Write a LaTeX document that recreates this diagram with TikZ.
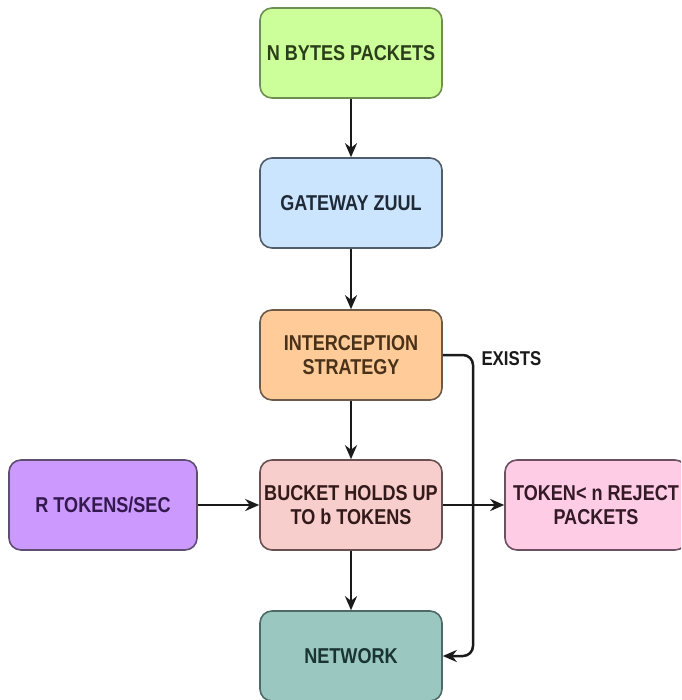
\documentclass[tikz,border=0pt]{standalone}
\usepackage{fontspec}
\setmainfont{Liberation Sans}[FakeStretch=0.84]
\usetikzlibrary{arrows.meta}
\definecolor{gF}{HTML}{CCFF99}\definecolor{gB}{HTML}{6E8F4F}\definecolor{gT}{HTML}{2B3D1A}
\definecolor{bF}{HTML}{CCE5FF}\definecolor{bB}{HTML}{525D6A}\definecolor{bT}{HTML}{1F2A36}
\definecolor{oF}{HTML}{FFCC99}\definecolor{oB}{HTML}{6E5A48}\definecolor{oT}{HTML}{4A3119}
\definecolor{rF}{HTML}{F8CECC}\definecolor{rB}{HTML}{6A5050}\definecolor{rT}{HTML}{331A1A}
\definecolor{pF}{HTML}{CC99FF}\definecolor{pB}{HTML}{5E4E70}\definecolor{pT}{HTML}{33194D}
\definecolor{kF}{HTML}{FFCCE6}\definecolor{kB}{HTML}{6A5060}\definecolor{kT}{HTML}{331A26}
\definecolor{nF}{HTML}{9AC7BF}\definecolor{nB}{HTML}{4E6A66}\definecolor{nT}{HTML}{1A3333}
\definecolor{lineC}{HTML}{1A1A1A}
\tikzset{
  box/.style={draw, rounded corners=12pt, line width=1.6pt, minimum width=182pt, minimum height=90pt,
    align=center, inner sep=2pt, font=\fontsize{21.5pt}{24pt}\selectfont\bfseries},
  conn/.style={draw=lineC, line width=2.5pt, -{Stealth[length=14pt,width=12pt]}}
}
\begin{document}
\begin{tikzpicture}[x=1pt,y=-1pt]
\useasboundingbox (0,0) rectangle (681,700);
\clip (0,0) rectangle (681,700);
\fill[white] (0,0) rectangle (681,700);
\node[box, fill=gF, draw=gB, text=gT] (nb) at (351,53) {N BYTES PACKETS};
\node[box, fill=bF, draw=bB, text=bT] (gw) at (351,203) {GATEWAY ZUUL};
\node[box, fill=oF, draw=oB, text=oT] (ic) at (351,355) {INTERCEPTION\\STRATEGY};
\node[box, fill=rF, draw=rB, text=rT] (bk) at (351,505) {BUCKET HOLDS UP\\TO b TOKENS};
\node[box, fill=pF, draw=pB, text=pT, minimum width=188pt] (rt) at (103,505) {R TOKENS/SEC};
\node[box, fill=kF, draw=kB, text=kT] (tk) at (596,505) {TOKEN< n REJECT\\PACKETS};
\node[box, fill=nF, draw=nB, text=nT] (nw) at (351,656) {NETWORK};
\coordinate (c1) at (473,355);
\coordinate (c2) at (473,656);
\draw[conn] (nb) -- (gw);
\draw[conn] (gw) -- (ic);
\draw[conn] (ic) -- (bk);
\draw[conn] (bk) -- (nw);
\draw[conn] (rt) -- (bk);
\draw[conn] (bk) -- (tk);
\draw[conn, rounded corners=10pt] (ic.east) -- (c1) -- (c2) -- (nw.east);
\node[anchor=west, text=lineC, font=\fontsize{20pt}{24pt}\selectfont\bfseries] (ex) at (478,359) {EXISTS};
\end{tikzpicture}
\end{document}
